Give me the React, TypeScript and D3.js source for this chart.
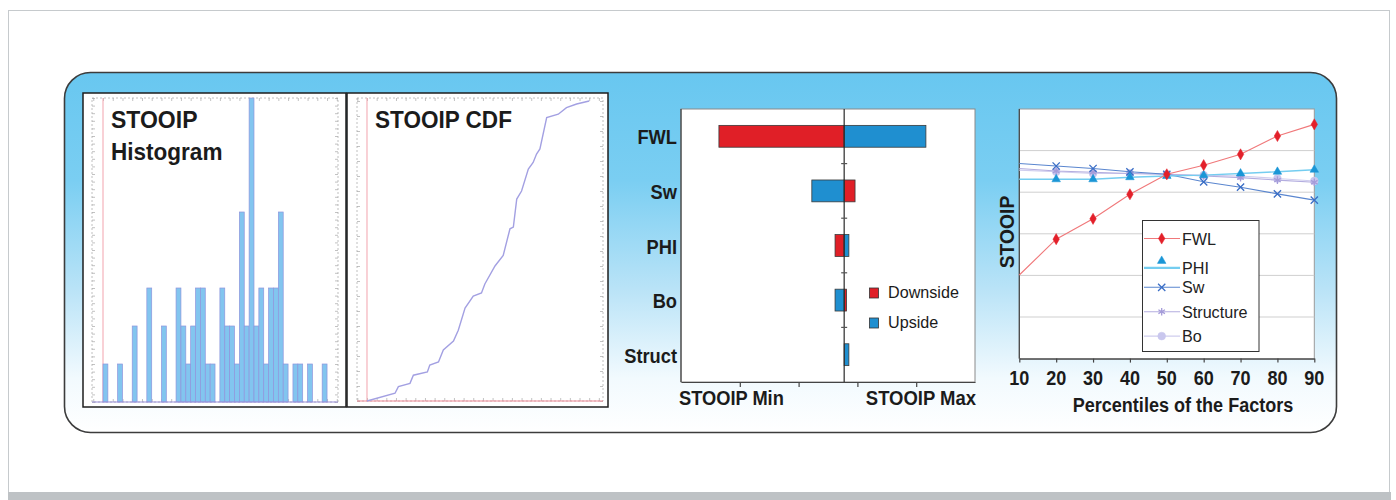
import React, { useEffect, useRef } from 'react';
import * as d3 from 'd3';

// histogram: counts per STOOIP bin (46 bins)
const histCounts = [1, 0, 0, 1, 0, 0, 2, 0, 0, 3, 0, 0, 2, 0, 0, 3, 2, 1, 2, 3, 3, 1, 1, 0, 3, 2, 2, 1, 5, 2, 8, 2, 3, 1, 3, 3, 5, 1, 0, 1, 1, 0, 1, 0, 0, 1];

// cdf: STOOIP (bin units) vs cumulative probability
const cdfValues = [0, 5.8, 6.5, 8.9, 9.6, 12.5, 13.0, 14.8, 15.8, 17.9, 18.9, 20.3, 22.0, 23.7, 24.4, 26.5, 28.2, 29.6, 30.3, 31.0, 32.0, 33.4, 34.4, 35.1, 35.8, 37.2, 39.6, 41.3, 43.4, 46.0];
const cdfProbs = [0, 0.026, 0.048, 0.059, 0.086, 0.097, 0.12, 0.13, 0.17, 0.2, 0.236, 0.31, 0.35, 0.36, 0.39, 0.45, 0.485, 0.574, 0.58, 0.673, 0.7, 0.773, 0.795, 0.823, 0.84, 0.945, 0.956, 0.978, 0.99, 1.0];

// tornado
const factors = ['FWL', 'Sw', 'PHI', 'Bo', 'Struct'];
const baseStooip = 5.55;
const downside = [1.29, 5.92, 5.24, 5.63, 5.55];
const upside = [8.33, 4.45, 5.71, 5.24, 5.71];
const tornadoTicks = [2, 4, 6, 8];
const tornadoLegend = ['Downside', 'Upside'];

// sensitivity lines
const percentiles = [10, 20, 30, 40, 50, 60, 70, 80, 90];
const fwl = [2.01, 2.87, 3.36, 3.95, 4.43, 4.65, 4.91, 5.35, 5.63];
const phi = [4.31, 4.31, 4.31, 4.36, 4.39, 4.41, 4.45, 4.49, 4.54];
const sw = [4.69, 4.63, 4.57, 4.49, 4.43, 4.25, 4.12, 3.96, 3.81];
const structure = [4.57, 4.51, 4.48, 4.45, 4.43, 4.39, 4.35, 4.29, 4.24];
const bo = [4.53, 4.49, 4.45, 4.45, 4.43, 4.41, 4.39, 4.33, 4.27];

const FONT = '"Liberation Sans", Arial, sans-serif';
const INK = '#1b1b1b';

function txt(g: any, s: string, x: number, y: number, o: any = {}) {
    const sx = o.sx ?? 1;
    const rot = o.rotate ? ` rotate(${o.rotate})` : '';
    return g.append('text')
        .attr('transform', `translate(${x},${y})${rot} scale(${sx},1)`)
        .attr('text-anchor', o.anchor || 'start')
        .attr('fill', o.fill || INK)
        .style('font-family', FONT)
        .style('font-size', `${o.size || 16}px`)
        .style('font-weight', o.weight || 'normal')
        .text(s);
}

function App() {
    const chartRef = useRef<SVGSVGElement>(null);

    useEffect(() => {
        const svg = d3.select(chartRef.current);
        svg.selectAll('*').remove();
        drawChart(svg);
    }, []);

    const drawChart = (svg: any) => {
        const defs = svg.append('defs');
        const grad = defs.append('linearGradient')
            .attr('id', 'panelGrad').attr('x1', 0).attr('y1', 0).attr('x2', 0).attr('y2', 1);
        [[0, '#68c7f0'], [0.3, '#7acef2'], [0.6, '#b9e3f7'], [0.85, '#f2fafe'], [1, '#ffffff']]
            .forEach(([o, c]) => grad.append('stop').attr('offset', o).attr('stop-color', c));

        // page frame
        svg.append('rect').attr('x', 0).attr('y', 0).attr('width', 1396).attr('height', 500).attr('fill', '#fff');
        svg.append('rect').attr('x', 8.5).attr('y', 10.5).attr('width', 1381).attr('height', 482)
            .attr('fill', '#fff').attr('stroke', '#c6cacd');
        svg.append('rect').attr('x', 8).attr('y', 492).attr('width', 1383).attr('height', 8).attr('fill', '#bec2c5');

        // rounded panel
        svg.append('rect').attr('x', 64.5).attr('y', 72.5).attr('width', 1272).attr('height', 360).attr('rx', 26)
            .attr('fill', 'url(#panelGrad)').attr('stroke', '#3c3c3c').attr('stroke-width', 1.6);

        // ---------- histogram ----------
        const hx = d3.scaleLinear().domain([-2.26, 48.25]).range([92, 338]);
        const hy = d3.scaleLinear().domain([0, 8]).range([402, 98]);
        const hg = svg.append('g');
        hg.append('rect').attr('x', 83).attr('y', 93).attr('width', 263).attr('height', 314)
            .attr('fill', '#fff').attr('stroke', '#1e1e1e').attr('stroke-width', 1.5);
        drawFrame(hg, hx, hy, 92, 338, 98, 402);
        hg.append('line').attr('x1', hx(0)).attr('x2', hx(0)).attr('y1', 98).attr('y2', 402)
            .attr('stroke', '#f2a3ad').attr('stroke-width', 1);
        hg.selectAll('.bar')
            .data(histCounts.map((c, i) => ({ c, i })).filter(d => d.c > 0))
            .enter().append('rect')
            .attr('x', (d: any) => hx(d.i))
            .attr('width', (d: any) => hx(d.i + 1) - hx(d.i))
            .attr('y', (d: any) => hy(d.c))
            .attr('height', (d: any) => hy(0) - hy(d.c))
            .attr('fill', '#82c5ef').attr('stroke', '#8f95dc').attr('stroke-width', 0.7);
        hg.append('line').attr('x1', 92).attr('x2', 338).attr('y1', hy(0)).attr('y2', hy(0))
            .attr('stroke', '#9a90da').attr('stroke-width', 1.2);
        txt(hg, 'STOOIP', 111, 128, { size: 23, weight: 'bold', sx: 1.0 });
        txt(hg, 'Histogram', 111, 160, { size: 23, weight: 'bold', sx: 0.98 });

        // ---------- cdf ----------
        const cx = d3.scaleLinear().domain([-2.07, 48.86]).range([357, 603]);
        const cy = d3.scaleLinear().domain([0, 1]).range([401, 101]);
        const cg = svg.append('g');
        cg.append('rect').attr('x', 347).attr('y', 93).attr('width', 261).attr('height', 314)
            .attr('fill', '#fff').attr('stroke', '#1e1e1e').attr('stroke-width', 1.5);
        drawFrame(cg, cx, cy, 357, 603, 98, 401);
        cg.append('line').attr('x1', cx(0)).attr('x2', cx(0)).attr('y1', 98).attr('y2', 401)
            .attr('stroke', '#f2a3ad');
        cg.append('line').attr('x1', 357).attr('x2', 603).attr('y1', cy(0)).attr('y2', cy(0))
            .attr('stroke', '#f08a96').attr('stroke-width', 1.2);
        const cdfLine = d3.line<number>().x((d, i) => cx(cdfValues[i])).y(d => cy(d));
        cg.append('path').attr('d', cdfLine(cdfProbs)).attr('fill', 'none')
            .attr('stroke', '#a3a0e2').attr('stroke-width', 1.4);
        txt(cg, 'STOOIP CDF', 375, 128, { size: 23, weight: 'bold', sx: 0.98 });

        // ---------- tornado ----------
        const tx = d3.scaleLinear().domain([0, 10]).range([681, 975]);
        const ty = d3.scaleBand().domain(factors).range([109, 382]);
        const tg = svg.append('g');
        tg.append('rect').attr('x', 681).attr('y', 109).attr('width', 294).attr('height', 273)
            .attr('fill', '#fff').attr('stroke', '#8a8a8a');
        const bh = ty.bandwidth() * 0.4;
        const bars: any[] = [];
        factors.forEach((f, i) => {
            bars.push({ f, v: downside[i], color: '#e01f27' });
            bars.push({ f, v: upside[i], color: '#1f8fd0' });
        });
        tg.selectAll('.tbar')
            .data(bars.filter(d => Math.abs(d.v - baseStooip) > 0.01))
            .enter().append('rect')
            .attr('x', (d: any) => tx(Math.min(d.v, baseStooip)))
            .attr('width', (d: any) => Math.abs(tx(d.v) - tx(baseStooip)))
            .attr('y', (d: any) => (ty(d.f) as number) + ty.bandwidth() / 2 - bh / 2)
            .attr('height', bh)
            .attr('fill', (d: any) => d.color)
            .attr('stroke', '#3a3a3a').attr('stroke-width', 0.8);
        tg.append('line').attr('x1', tx(baseStooip)).attr('x2', tx(baseStooip)).attr('y1', 109).attr('y2', 382)
            .attr('stroke', '#2a2a2a').attr('stroke-width', 1.2);
        factors.slice(1).forEach(f => {
            tg.append('line').attr('x1', tx(baseStooip) - 3).attr('x2', tx(baseStooip) + 3)
                .attr('y1', ty(f)).attr('y2', ty(f)).attr('stroke', '#555').attr('stroke-width', 1.2);
        });
        const tAxis = tg.append('g').attr('transform', 'translate(0,382)')
            .call(d3.axisBottom(tx).tickValues(tornadoTicks).tickSize(5).tickSizeOuter(0).tickFormat(() => ''));
        tAxis.selectAll('path,line').attr('stroke', '#444').attr('stroke-width', 1.2);
        tg.append('line').attr('x1', 681).attr('x2', 681).attr('y1', 109).attr('y2', 382)
            .attr('stroke', '#444').attr('stroke-width', 1.2);
        factors.forEach(f => {
            txt(tg, f, 677, (ty(f) as number) + ty.bandwidth() / 2 + 8, { size: 21, weight: 'bold', anchor: 'end', sx: 0.87 });
        });
        txt(tg, 'STOOIP Min', 679, 405, { size: 21, weight: 'bold', sx: 0.87 });
        txt(tg, 'STOOIP Max', 976, 405, { size: 21, weight: 'bold', sx: 0.88, anchor: 'end' });
        tornadoLegend.forEach((name, i) => {
            const y = 293 + i * 30;
            tg.append('rect').attr('x', 869.5).attr('y', y - 5).attr('width', 9).attr('height', 10)
                .attr('fill', i === 0 ? '#e01f27' : '#1f8fd0').attr('stroke', '#333').attr('stroke-width', 0.8);
            txt(tg, name, 888, y + 5, { size: 17, sx: 0.95 });
        });

        // ---------- sensitivity lines ----------
        const lx = d3.scaleLinear().domain([10, 90]).range([1019.3, 1314.3]);
        const ly = d3.scaleLinear().domain([0, 6]).range([358.6, 109]);
        const lg = svg.append('g');
        lg.append('rect').attr('x', 1019.3).attr('y', 109).attr('width', 295).attr('height', 249.6)
            .attr('fill', '#fff').attr('stroke', '#9a9a9a');
        lg.append('g').selectAll('line').data(ly.ticks(6).filter(v => v > 0 && v < 6)).enter().append('line')
            .attr('x1', 1019.3).attr('x2', 1314.3).attr('y1', (d: number) => ly(d)).attr('y2', (d: number) => ly(d))
            .attr('stroke', '#cfcfcf').attr('stroke-width', 1);
        const xAxis = lg.append('g').attr('transform', 'translate(0,358.6)')
            .call(d3.axisBottom(lx).tickValues(percentiles).tickSize(4).tickSizeOuter(0).tickFormat(() => ''));
        xAxis.selectAll('path,line').attr('stroke', '#444').attr('stroke-width', 1.2);
        lg.append('line').attr('x1', 1019.3).attr('x2', 1019.3).attr('y1', 109).attr('y2', 358.6)
            .attr('stroke', '#444').attr('stroke-width', 1.2);

        const series = [
            { name: 'FWL', values: fwl, line: '#f0787a', lw: 1.1, color: '#e3202a', sym: d3.symbolDiamond, size: 36, fillSym: true },
            { name: 'PHI', values: phi, line: '#74cdf0', lw: 1.4, color: '#1a96d6', sym: d3.symbolTriangle, size: 32, fillSym: true },
            { name: 'Sw', values: sw, line: '#5a86cf', lw: 1.1, color: '#3a6ec6', sym: d3.symbolTimes, size: 36, fillSym: false },
            { name: 'Structure', values: structure, line: '#b3addf', lw: 1.1, color: '#a59cd9', sym: d3.symbolAsterisk, size: 40, fillSym: false },
            { name: 'Bo', values: bo, line: '#cfcdee', lw: 1.1, color: '#c9c7ee', sym: d3.symbolCircle, size: 48, fillSym: true },
        ];
        const drawSym = (g: any, s: any, x: number, y: number) => {
            g.append('path').attr('d', d3.symbol().type(s.sym).size(s.size)())
                .attr('transform', `translate(${x},${y})`)
                .attr('fill', s.fillSym ? s.color : 'none')
                .attr('stroke', s.color).attr('stroke-width', s.fillSym ? 0.5 : 1.3);
        };
        const line = d3.line<number>().x((d, i) => lx(percentiles[i])).y(d => ly(d));
        [...series].reverse().forEach(s => {
            lg.append('path').attr('d', line(s.values)).attr('fill', 'none')
                .attr('stroke', s.line).attr('stroke-width', s.lw);
            s.values.forEach((v, i) => {
                if (percentiles[i] > 10) drawSym(lg, s, lx(percentiles[i]), ly(v));
            });
        });

        percentiles.forEach(p => {
            txt(lg, String(p), lx(p), 385, { size: 21, weight: 'bold', anchor: 'middle', sx: 0.86 });
        });
        txt(lg, 'Percentiles of the Factors', 1183, 412, { size: 21, weight: 'bold', anchor: 'middle', sx: 0.86 });
        txt(lg, 'STOOIP', 1014, 232, { size: 21, weight: 'bold', anchor: 'middle', rotate: -90, sx: 0.92 });

        // legend
        const leg = lg.append('g');
        leg.append('rect').attr('x', 1142.5).attr('y', 220.5).attr('width', 116.5).attr('height', 131)
            .attr('fill', '#fff').attr('stroke', '#333').attr('stroke-width', 1);
        series.forEach((s, i) => {
            const y = 238.5 + i * 24.4;
            const ly2 = s.name === 'PHI' ? y + 5 : y;
            leg.append('line').attr('x1', 1144).attr('x2', 1180).attr('y1', ly2).attr('y2', ly2)
                .attr('stroke', s.line).attr('stroke-width', s.name === 'PHI' ? 2.4 : 1.1);
            drawSym(leg, s, 1161.7, s.name === 'PHI' ? y - 2 : y);
            txt(leg, s.name, 1182, ly2 + 6, { size: 17, sx: 0.95, fill: '#222' });
        });
    };

    const drawFrame = (g: any, x: any, y: any, x0: number, x1: number, y0: number, y1: number) => {
        g.append('rect').attr('x', x0).attr('y', y0).attr('width', x1 - x0).attr('height', y1 - y0)
            .attr('fill', 'none').attr('stroke', '#b0b0b0').attr('stroke-width', 0.8).attr('stroke-dasharray', '2,2');
        const axes = [
            [d3.axisLeft(y), `translate(${x0},0)`],
            [d3.axisRight(y), `translate(${x1},0)`],
            [d3.axisTop(x), `translate(0,${y0})`],
            [d3.axisBottom(x), `translate(0,${y1})`],
        ];
        axes.forEach(([ax, tr]: any) => {
            const a = g.append('g').attr('transform', tr)
                .call(ax.ticks(30).tickSize(-3).tickSizeOuter(0).tickFormat(() => ''));
            a.select('.domain').remove();
            a.selectAll('line').attr('stroke', '#a8a8a8').attr('stroke-width', 0.7);
        });
    };

    return (
        <svg ref={chartRef} width={1396} height={500} style={{ position: 'absolute', left: 0, top: 0, display: 'block' }}></svg>
    );
}

export default App;
